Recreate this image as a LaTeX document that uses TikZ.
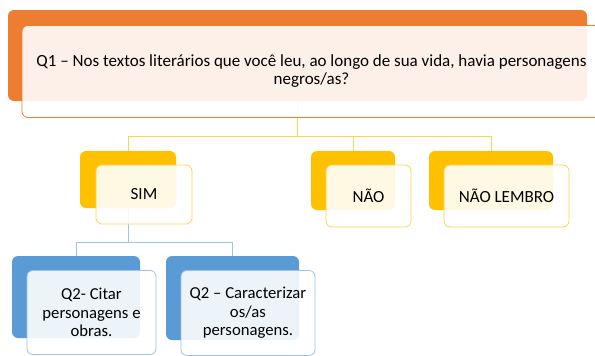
\documentclass[tikz,border=0pt]{standalone}
\usepackage{fontspec}
\setmainfont{Carlito}
\definecolor{qorange}{HTML}{ED7D31}
\definecolor{qgold}{HTML}{FFC000}
\definecolor{qgoldline}{HTML}{FFD34D}
\definecolor{qblue}{HTML}{5B9BD5}
\definecolor{qblueline}{HTML}{9DC3E6}

\begin{document}
\begin{tikzpicture}[x=1pt, y=-1pt,
    box/.style 2 args={rectangle, rounded corners=6pt, minimum width=#1pt, minimum height=#2pt, inner sep=0pt},
    front/.style={fill=white, fill opacity=0.89, text opacity=1, align=center, line width=0.8pt,
                  font=\fontsize{17}{18}\selectfont},
    oback/.style={fill=qorange},
    ofront/.style={front, draw=qorange},
    gback/.style={fill=qgold},
    gfront/.style={front, draw=qgoldline},
    bback/.style={fill=qblue},
    bfront/.style={front, draw=qblueline, font=\fontsize{16.7}{18.5}\selectfont},
    gline/.style={draw=qgoldline, line width=1pt},
    bline/.style={draw=qblueline, line width=1pt}]
  \useasboundingbox (0,0) rectangle (595,356);

  % back boxes
  \node[box={579}{91}, oback] at (297.5, 55.5)  (q1back)   {};
  \node[box={96}{57},  gback] at (128, 179.5)   (simback)  {};
  \node[box={84}{59},  gback] at (353, 180.5)   (naoback)  {};
  \node[box={124}{59}, gback] at (491, 180.5)   (lembback) {};
  \node[box={128}{82}, bback] at (76, 297)      (citback)  {};
  \node[box={133}{84}, bback] at (232.5, 298)   (carback)  {};

  % connectors
  \coordinate (j1) at (297.5, 136);
  \coordinate (j2) at (128, 242);
  \draw[gline] (q1back.south) -- (j1) -| (simback.north);
  \draw[gline] (j1) -| (naoback.north);
  \draw[gline] (j1) -| (lembback.north);
  \draw[bline] (simback.south) -- (j2) -| (citback.north);
  \draw[bline] (j2) -| (carback.north);

  % front boxes
  \node[box={579}{92}, ofront] at (311.5, 71.5) (q1)   {Q1 – Nos textos literários que você leu, ao longo de sua vida, havia personagens\\negros/as?};
  \node[box={96}{59},  gfront] at (144, 194.5)  (sim)  {SIM};
  \node[box={85}{62},  gfront] at (368.5, 196)  (nao)  {NÃO};
  \node[box={125}{62}, gfront] at (506.5, 196)  (lemb) {NÃO LEMBRO};
  \node[box={129}{84}, bfront] at (91.5, 312.5) (cit)  {Q2- Citar\\personagens e\\obras.};
  \node[box={134}{85}, bfront] at (248, 313)    (car)  {Q2 – Caracterizar\\os/as\\personagens.};
\end{tikzpicture}
\end{document}
